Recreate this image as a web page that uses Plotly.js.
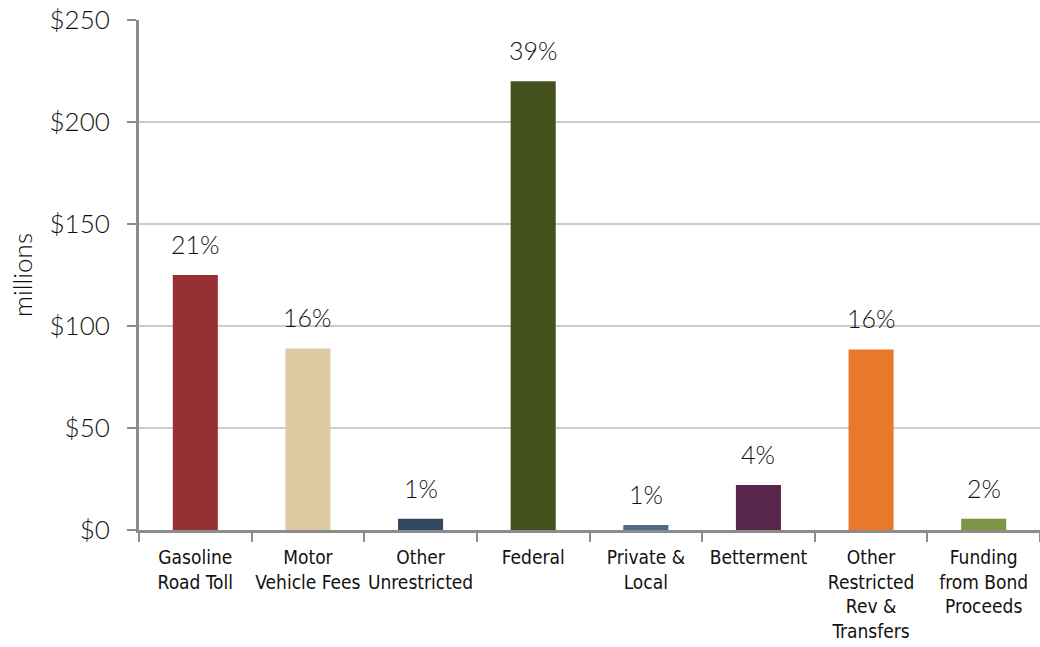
<!DOCTYPE html>
<html>
<head>
<meta charset="utf-8">
<script src="https://cdn.plot.ly/plotly-3.0.1.min.js"></script>
<style>html,body{margin:0;padding:0;background:#fff;}#chart{width:1040px;height:647px;}</style>
</head>
<body>
<div id="chart"></div>
<script>
const categories = ["Gasoline<br>Road Toll", "Motor<br>Vehicle Fees", "Other<br>Unrestricted", "Federal", "Private &<br>Local", "Betterment", "Other<br>Restricted<br>Rev &<br>Transfers", "Funding<br>from Bond<br>Proceeds"];
const valuesMillions = [125, 89, 5.5, 220, 2.5, 22, 88.5, 5.5];
const percentLabels = ["21%", "16%", "1%", "39%", "1%", "4%", "16%", "2%"];
const barColors = ["#963035", "#ddcba4", "#344760", "#44511c", "#536a87", "#57264a", "#e8792b", "#7f9444"];
const yTickVals = [0, 50, 100, 150, 200, 250];
const yTickText = ["$0", "$50", "$100", "$150", "$200", "$250"];

const font = "Lato, 'Open Sans', sans-serif";

const trace = {
  type: "bar",
  x: categories,
  y: valuesMillions,
  marker: {color: barColors, line: {width: 0}},
  hoverinfo: "none"
};

const annotations = categories.map((c, i) => ({
  x: c, y: valuesMillions[i], xref: "x", yref: "y",
  text: percentLabels[i], showarrow: false,
  yanchor: "bottom", yshift: 14,
  font: {family: font, size: 25, color: "#111111", weight: 300}
}));

const layout = {
  width: 1040, height: 647,
  margin: {l: 139, r: 0, t: 20, b: 117},
  paper_bgcolor: "#fff", plot_bgcolor: "#fff",
  bargap: 0.6,
  showlegend: false,
  xaxis: {
    type: "category",
    tickson: "boundaries",
    tickangle: 0,
    ticks: "outside", ticklen: 9, tickwidth: 2, tickcolor: "#8c8c8c",
    showline: true, linecolor: "#8c8c8c", linewidth: 3,
    showgrid: false, zeroline: false,
    tickfont: {family: "'DejaVu Sans Condensed', " + font, size: 19, color: "#111111", weight: 300},
    ticklabelstandoff: 8,
    fixedrange: true
  },
  yaxis: {
    range: [0, 250],
    tickvals: yTickVals, ticktext: yTickText,
    ticks: "outside", ticklen: 9, tickwidth: 2, tickcolor: "#8c8c8c",
    showline: true, linecolor: "#8c8c8c", linewidth: 3,
    showgrid: true, gridcolor: "#cccccc", gridwidth: 2,
    zeroline: false,
    tickfont: {family: font, size: 26, color: "#111111", weight: 300},
    ticklabelstandoff: 12,
    title: {text: "millions", font: {family: font, size: 26, color: "#111111", weight: 300}, standoff: 10},
    fixedrange: true
  },
  annotations: annotations
};

Plotly.newPlot("chart", [trace], layout, {displayModeBar: false, staticPlot: true});
</script>
</body>
</html>
